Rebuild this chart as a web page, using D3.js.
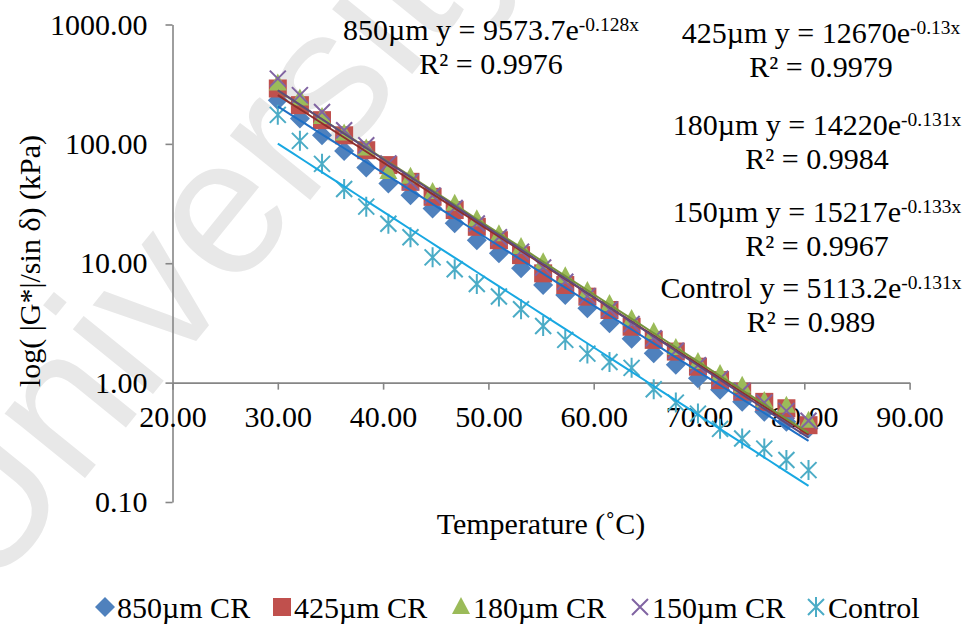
<!DOCTYPE html>
<html>
<head>
<meta charset="utf-8">
<script src="https://cdn.jsdelivr.net/npm/d3@7"></script>
<style>
  body { margin: 0; background: #fff; }
  svg { display: block; }
  text { font-family: "Liberation Serif", "Times New Roman", serif; fill: #000; }
</style>
</head>
<body>
<svg id="chart" width="968" height="624"></svg>
<script>
// Test temperatures (°C)
const temps = [30.0, 32.1, 34.2, 36.3, 38.4, 40.5, 42.6, 44.7, 46.8, 48.9, 51.0, 53.1, 55.2,
               57.3, 59.4, 61.5, 63.6, 65.7, 67.8, 69.9, 72.0, 74.1, 76.2, 78.3, 80.4];

// |G*|/sin δ (kPa) for each binder
const cr850 = [232, 163, 118, 87.3, 63.5, 46.6, 37.2, 28.8, 21.6, 15.6, 12.1, 9.06, 6.58,
               5.42, 4.20, 3.14, 2.33, 1.76, 1.41, 1.09, 0.87, 0.69, 0.57, 0.47, 0.415];
const cr425 = [291, 211, 158, 118, 88.5, 66.4, 48.1, 36.0, 27.9, 20.2, 15.6, 11.7, 8.23,
               6.57, 5.25, 4.06, 2.94, 2.28, 1.82, 1.36, 1.05, 0.84, 0.69, 0.61, 0.44];
const cr180 = [320, 240, 168, 122, 91.5, 58.0, 53.0, 39.6, 31.5, 23.4, 17.5, 13.7, 10.2,
               7.80, 5.85, 4.56, 3.41, 2.66, 1.95, 1.49, 1.18, 0.94, 0.70, 0.64, 0.48];
const cr150 = [352, 256, 185, 130, 97.5, 68.6, 48.0, 37.0, 29.0, 21.5, 16.5, 12.5, 9.2,
               7.0, 5.3, 4.1, 3.1, 2.35, 1.85, 1.40, 1.08, 0.85, 0.68, 0.58, 0.48];
const control = [175, 106, 68.0, 41.9, 29.8, 21.4, 16.5, 11.2, 8.9, 6.7, 5.26, 4.12, 2.98,
                 2.28, 1.75, 1.49, 1.33, 0.88, 0.68, 0.55, 0.41, 0.34, 0.28, 0.225, 0.185];

const seriesNames = ["850µm CR", "425µm CR", "180µm CR", "150µm CR", "Control"];
const fitNames = ["850µm", "425µm", "180µm", "150µm", "Control"];

// Exponential trendlines y = a·e^(b·x)
const fitA = [9573.7, 12670, 14220, 15217, 5113.2];
const fitB = [-0.128, -0.13, -0.131, -0.133, -0.131];
const fitR2 = ["0.9976", "0.9979", "0.9984", "0.9967", "0.989"];

const xTicks = [20, 30, 40, 50, 60, 70, 80, 90];
const yTicks = [0.1, 1, 10, 100, 1000];

// ---- styling / layout ----
const markerColors = ["#4F81BD", "#C0504D", "#9BBB59", "#8064A2", "#4BACC6"];
const trendColors  = ["#1F6FC5", "#8E2F2C", "#77933C", "#604A7B", "#19A8E2"];
const markerTypes  = ["diamond", "square", "triangle", "cross", "star"];
const labelPos = [[491, 40], [821, 43], [817, 135], [817, 221.7], [811, 298]];
const FONT = 30;

const svg = d3.select("#chart");

// faint background watermark
svg.append("text")
  .attr("transform", "translate(-12,598) rotate(-51)")
  .style("font-family", "'Liberation Sans', Arial, sans-serif")
  .style("font-size", "195px")
  .style("fill", "#e8e8e8")
  .text("University");

const x = d3.scaleLinear().domain([20, 90]).range([172.5, 909.6]);
const y = d3.scaleLog().domain([0.1, 1000]).range([502, 24.5]);

const axisColor = "#868686";

// y axis
const gy = svg.append("g")
  .attr("transform", "translate(172.5,0)")
  .call(d3.axisLeft(y).tickValues(yTicks).tickFormat(d3.format(".2f"))
        .tickSize(7).tickSizeOuter(0).tickPadding(18));
// x axis crossing at 1.00
const gx = svg.append("g")
  .attr("transform", `translate(0,${y(1)})`)
  .call(d3.axisBottom(x).tickValues(xTicks).tickFormat(d3.format(".2f"))
        .tickSize(7).tickSizeOuter(0).tickPadding(16));

[gx, gy].forEach(g => {
  g.select(".domain").attr("stroke", axisColor).attr("stroke-width", 1.6);
  g.selectAll(".tick line").attr("stroke", axisColor).attr("stroke-width", 1.6);
  g.selectAll(".tick text")
    .style("font-family", "'Liberation Serif', 'Times New Roman', serif")
    .style("font-size", FONT + "px").attr("fill", "#000");
});

// axis titles
svg.append("text")
  .attr("x", 541).attr("y", 534)
  .attr("text-anchor", "middle")
  .style("font-size", FONT + "px")
  .text("Temperature (˚C)");

svg.append("text")
  .attr("transform", "translate(40,261) rotate(-90)")
  .attr("text-anchor", "middle")
  .style("font-size", FONT + "px")
  .text("log( |G*|/sin δ) (kPa)");

// marker shapes
function markerPath(type) {
  switch (type) {
    case "diamond":  return "M0,-10L10,0L0,10L-10,0Z";
    case "square":   return "M-9,-9H9V9H-9Z";
    case "triangle": return "M0,-10L9,7L-9,7Z";
    case "cross":    return "M-8,-8L8,8M-8,8L8,-8";
    case "star":     return "M-8,-8L8,8M-8,8L8,-8M0,-10V10";
  }
}
function styleMarker(sel, i) {
  const t = markerTypes[i];
  if (t === "cross" || t === "star") {
    sel.attr("fill", "none").attr("stroke", markerColors[i]).attr("stroke-width", 2);
  } else {
    sel.attr("fill", markerColors[i]).attr("stroke", "none");
  }
}

const allSeries = [cr850, cr425, cr180, cr150, control];

// data markers
allSeries.forEach((vals, i) => {
  const pts = temps.map((t, k) => ({ t, v: vals[k] }));
  svg.append("g").selectAll("path")
    .data(pts).join("path")
    .attr("d", markerPath(markerTypes[i]))
    .attr("transform", d => `translate(${x(d.t)},${y(d.v)})`)
    .call(styleMarker, i);
});

// trendlines over the data range
const line = d3.line().x(d => x(d[0])).y(d => y(d[1]));
const t0 = d3.min(temps), t1 = d3.max(temps);
fitA.forEach((a, i) => {
  const b = fitB[i];
  const pts = d3.range(0, 41).map(k => {
    const t = t0 + (t1 - t0) * k / 40;
    return [t, a * Math.exp(b * t)];
  });
  svg.append("path")
    .attr("d", line(pts))
    .attr("fill", "none")
    .attr("stroke", trendColors[i])
    .attr("stroke-width", 2);
});

// trendline equation labels
fitA.forEach((a, i) => {
  const [cx, by] = labelPos[i];
  const t1 = svg.append("text")
    .attr("x", cx).attr("y", by)
    .attr("text-anchor", "middle")
    .style("font-size", FONT + "px");
  t1.append("tspan").text(`${fitNames[i]} y = ${a}e`);
  t1.append("tspan").attr("dy", -9).style("font-size", "19.5px").text(`${fitB[i]}x`);
  svg.append("text")
    .attr("x", cx).attr("y", by + 34)
    .attr("text-anchor", "middle")
    .style("font-size", FONT + "px")
    .text(`R² = ${fitR2[i]}`);
});

// legend
const legendX = [105, 282, 461, 640, 816];
const legendY = 607;
seriesNames.forEach((name, i) => {
  const g = svg.append("g").attr("transform", `translate(${legendX[i]},${legendY})`);
  g.append("path").attr("d", markerPath(markerTypes[i])).call(styleMarker, i);
  g.append("text").attr("x", 12).attr("y", 10.5)
    .style("font-size", FONT + "px").text(name);
});
</script>
</body>
</html>
